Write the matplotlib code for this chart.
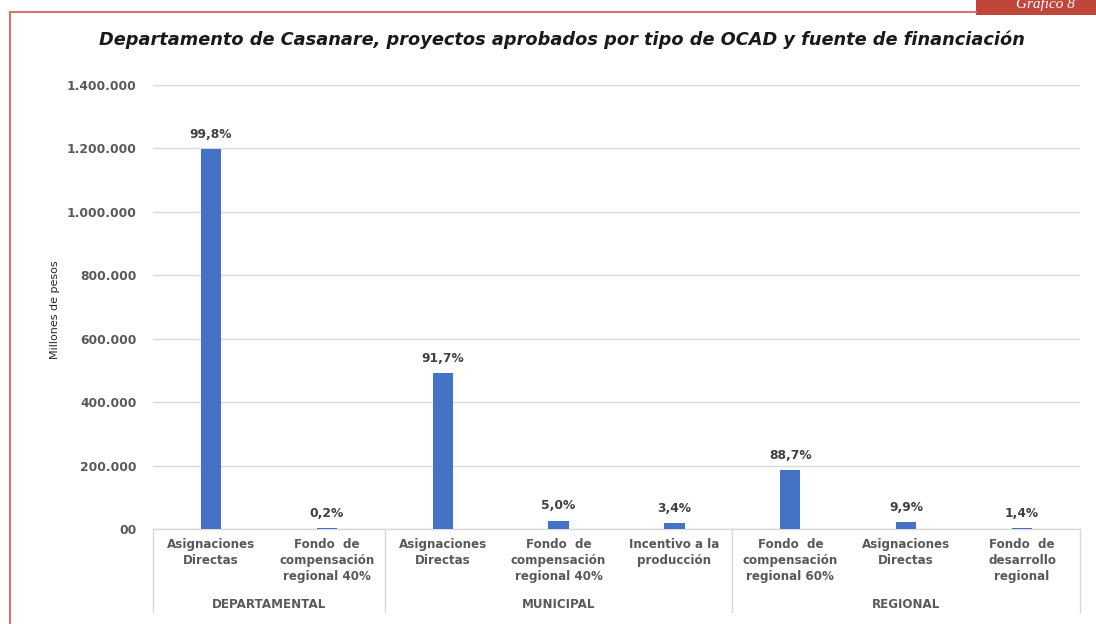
import matplotlib
matplotlib.use("Agg")
import matplotlib.pyplot as plt
from matplotlib.patches import Rectangle
from matplotlib.lines import Line2D
import matplotlib.transforms as mtransforms

groups = ["DEPARTAMENTAL", "MUNICIPAL", "REGIONAL"]
group_sizes = [2, 3, 3]
categories = ["Asignaciones\nDirectas", "Fondo  de\ncompensación\nregional 40%",
              "Asignaciones\nDirectas", "Fondo  de\ncompensación\nregional 40%",
              "Incentivo a la\nproducción",
              "Fondo  de\ncompensación\nregional 60%", "Asignaciones\nDirectas",
              "Fondo  de\ndesarrollo\nregional"]
values = [1198000, 2400, 491900, 26800, 18200, 186000, 20800, 2900]
pct_labels = ["99,8%", "0,2%", "91,7%", "5,0%", "3,4%", "88,7%", "9,9%", "1,4%"]
yticks = [0, 200000, 400000, 600000, 800000, 1000000, 1200000, 1400000]
ytick_labels = ["00", "200.000", "400.000", "600.000", "800.000", "1.000.000", "1.200.000", "1.400.000"]
title = "Departamento de Casanare, proyectos aprobados por tipo de OCAD y fuente de financiación"

W, H = 1096, 624
fig = plt.figure(figsize=(W / 100, H / 100), dpi=100)
fig.patch.set_facecolor("white")

ax = fig.add_axes([153 / W, 1 - 529 / H, (1080 - 153) / W, (529 - 85) / H])
x = list(range(len(values)))
ax.bar(x, values, width=0.175, color="#4472C4", zorder=3)
ax.set_xlim(-0.5, len(values) - 0.5)
ax.set_ylim(0, 1400000)
ax.set_yticks(yticks)
ax.set_yticklabels(ytick_labels, fontsize=8.8, fontweight="bold", color="#595959", family="DejaVu Sans")
ax.tick_params(axis="y", length=0, pad=12)
ax.set_xticks([])
ax.grid(axis="y", color="#D9D9D9", linewidth=1, zorder=0)
for s in ["top", "right", "left"]:
    ax.spines[s].set_visible(False)
ax.spines["bottom"].set_color("#D9D9D9")
ax.spines["bottom"].set_linewidth(1)

for xi, v, lab in zip(x, values, pct_labels):
    ax.annotate(lab, (xi, v), xytext=(0, 6), textcoords="offset points", ha="center", va="bottom",
                fontsize=8.8, fontweight="bold", color="#404040", family="DejaVu Sans")

trans = mtransforms.blended_transform_factory(ax.transData, fig.transFigure)
for xi, cat in zip(x, categories):
    ax.text(xi, 1 - 538 / H, cat, transform=trans, ha="center", va="top", fontsize=8.6,
            fontweight="bold", color="#595959", family="DejaVu Sans", linespacing=1.3, multialignment="center")

start = 0
bounds = [-0.5]
for g, n in zip(groups, group_sizes):
    center = start + (n - 1) / 2
    ax.text(center, 1 - 605 / H, g, transform=trans, ha="center", va="center", fontsize=8.6,
            fontweight="bold", color="#595959", family="DejaVu Sans")
    start += n
    bounds.append(start - 0.5)
for b in bounds:
    fig.add_artist(Line2D([b, b], [1 - 529 / H, 1 - 612 / H], transform=trans, color="#D9D9D9", linewidth=1))

fig.text(55 / W, 1 - 310 / H, "Millones de pesos", rotation=90, ha="center", va="center", fontsize=8,
         color="#262626", family="DejaVu Sans")

fig.text(562 / W, 1 - 40 / H, title, ha="center", va="center", fontsize=12.8, fontweight="bold",
         style="italic", color="#1a1a1a", family="DejaVu Sans")

# red frame
fig.add_artist(Line2D([9.5 / W, 9.5 / W], [0, 1 - 11.5 / H], transform=fig.transFigure, color="#D9736E", linewidth=1.5))
fig.add_artist(Line2D([9.5 / W, 976 / W], [1 - 11.5 / H, 1 - 11.5 / H], transform=fig.transFigure, color="#D9736E", linewidth=1.5))
fig.add_artist(Rectangle((976 / W, 1 - 15 / H), (W - 976) / W, 15 / H, transform=fig.transFigure,
                         facecolor="#C0453A", edgecolor="none"))
fig.text(1016 / W, 1 - 4 / H, "Gráfico 8", ha="left", va="center", fontsize=11, style="italic",
         color="white", family=["Liberation Serif", "DejaVu Serif"])

fig.savefig("out.png", dpi=100)
